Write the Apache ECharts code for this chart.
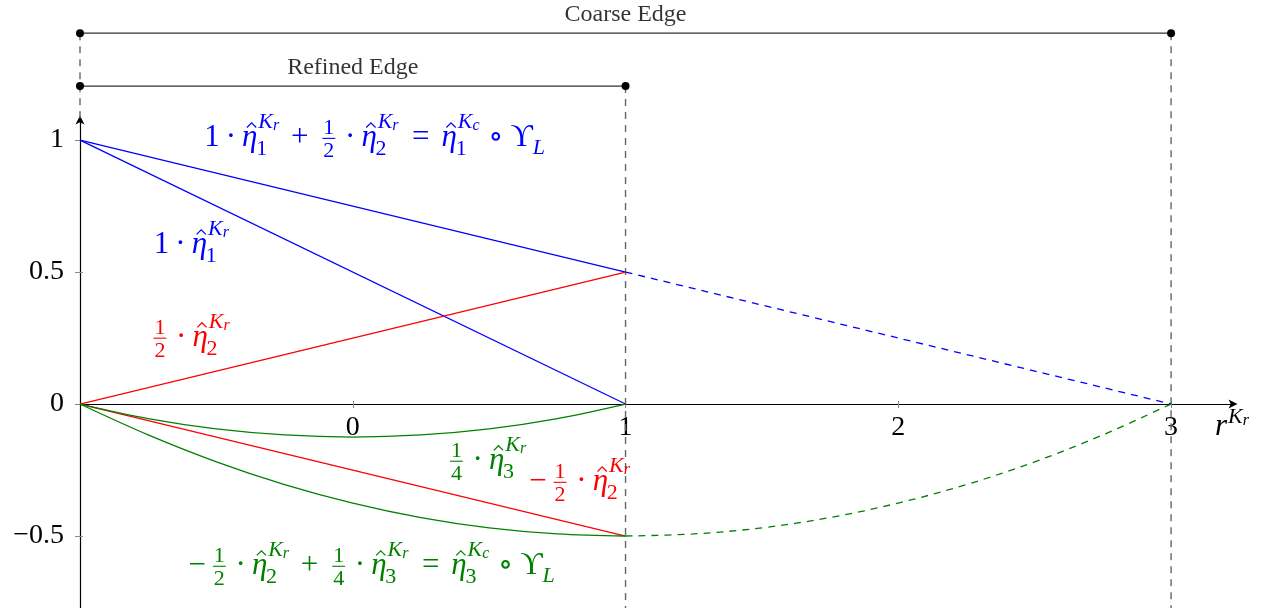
<!DOCTYPE html>
<html>
<head>
<meta charset="utf-8">
<script src="https://cdn.jsdelivr.net/npm/echarts@6/dist/echarts.min.js"></script>
<style>
  html, body { margin: 0; padding: 0; background: #fff; }
  #chart { width: 1282px; height: 608px; }
</style>
</head>
<body>
<div id="chart"></div>
<script>
// Refined element [-1, 1] inside the coarse element [-1, 3]
const xTicks = [0, 1, 2, 3];
const yTicks = [-0.5, 0, 0.5, 1];
const coarseEdge = [-1, 3];
const refinedEdge = [-1, 1];

// Linear shape functions
const coarseEta1OnRefined = [[-1, 1], [1, 0.5]];
const coarseEta1Beyond = [[1, 0.5], [3, 0]];
const refinedEta1 = [[-1, 1], [1, 0]];
const refinedEta2Half = [[-1, 0], [1, 0.5]];
const refinedEta2NegHalf = [[-1, 0], [1, -0.5]];
// Quadratic bubbles
const refinedEta3Quarter = [[-1, 0], [-0.75, -0.055], [-0.5, -0.094], [-0.25, -0.117], [0, -0.125],
  [0.25, -0.117], [0.5, -0.094], [0.75, -0.055], [1, 0]];
const coarseEta3OnRefined = [[-1, 0], [-0.75, -0.117], [-0.5, -0.219], [-0.25, -0.305], [0, -0.375],
  [0.25, -0.43], [0.5, -0.469], [0.75, -0.492], [1, -0.5]];
const coarseEta3Beyond = [[1, -0.5], [1.25, -0.492], [1.5, -0.469], [1.75, -0.43], [2, -0.375],
  [2.25, -0.305], [2.5, -0.219], [2.75, -0.117], [3, 0]];

// Axis extents, grid box and heights of the edge brackets (in y units)
const X_MIN = -1, X_MAX = 3.227;
const Y_MIN = -0.7727, Y_MAX = 1.076;
const GRID = { left: 80, right: 49, top: 120, bottom: 0 };
const GRID_H = 608 - GRID.top - GRID.bottom;
const X_AXIS_LIFT = (0 - Y_MIN) / (Y_MAX - Y_MIN) * GRID_H;   // keeps the x axis on y = 0
const COARSE_Y = 1.405, REFINED_Y = 1.2045;

const BLUE = '#0000ff', RED = '#ff0000', GREEN = '#008000';
const FAMILY = "'Liberation Serif','DejaVu Serif',serif";

// Formula labels: token lists typeset by a small layout routine below
const mathLabels = [
  { at: [0.08, 0.977], align: 'center', color: BLUE, tokens: [
    ['num', '1'], ['bin', '·'], ['eta', '1', 'K', 'r'], ['bin', '+'], ['frac', '1', '2'], ['bin', '·'],
    ['eta', '2', 'K', 'r'], ['rel', '='], ['eta', '1', 'K', 'c'], ['bin', '∘'], ['ups', 'L']] },
  { at: [-0.589, 0.572], align: 'center', color: BLUE, tokens: [
    ['num', '1'], ['bin', '·'], ['eta', '1', 'K', 'r']] },
  { at: [-0.595, 0.22], align: 'center', color: RED, tokens: [
    ['frac', '1', '2'], ['bin', '·'], ['eta', '2', 'K', 'r']] },
  { at: [0.492, -0.246], align: 'center', color: GREEN, tokens: [
    ['frac', '1', '4'], ['bin', '·'], ['eta', '3', 'K', 'r']] },
  { at: [0.828, -0.326], align: 'center', color: RED, tokens: [
    ['neg'], ['frac', '1', '2'], ['bin', '·'], ['eta', '2', 'K', 'r']] },
  { at: [0.063, -0.644], align: 'center', color: GREEN, tokens: [
    ['neg'], ['frac', '1', '2'], ['bin', '·'], ['eta', '2', 'K', 'r'], ['bin', '+'], ['frac', '1', '4'],
    ['bin', '·'], ['eta', '3', 'K', 'r'], ['rel', '='], ['eta', '3', 'K', 'c'], ['bin', '∘'], ['ups', 'L']] },
  { at: [3.161, -0.117], align: 'left', color: '#000', tokens: [['var', 'r', 'K', 'r']] }
];

// ---- tiny math typesetter -------------------------------------------------
const S = 31;                 // text size
const SC = 22, SS = 16;       // script and script-script sizes
const mctx = document.createElement('canvas').getContext('2d');
function fontOf(size, it) { return (it ? 'italic ' : '') + size + 'px ' + FAMILY; }
function textW(s, size, it) { mctx.font = fontOf(size, it); return mctx.measureText(s).width; }
const dropCache = {};
// distance from the canvas "middle" line down to the alphabetic baseline
function drop(size, it) {
  const k = size + '|' + it;
  if (!(k in dropCache)) {
    mctx.font = fontOf(size, it);
    mctx.textBaseline = 'middle';
    dropCache[k] = mctx.measureText('H').actualBoundingBoxDescent;
    mctx.textBaseline = 'alphabetic';
  }
  return dropCache[k];
}
const OPW = { '+': 0.778, '·': 0.278, '∘': 0.5, '=': 0.778, '−': 0.778 };

function layoutMath(tokens) {
  const out = [];
  let x = 0;
  const g = (s, gx, b, size, it) => { out.push({ k: 'g', s, x: gx, b, size, it }); return textW(s, size, it); };
  const scripts = (x0, sub, supA, supB, supShift) => {
    let end = x0;
    if (sub) end = Math.max(end, x0 - 0.04 * S + g(sub, x0 - 0.04 * S, 0.3 * S, SC, false));
    if (supA) {
      const kx = x0 + 0.03 * S;
      const kw = g(supA, kx, -supShift, SC, true);
      const rx = kx + kw;
      const rw = g(supB, rx, -supShift + 0.07 * S, SS, true);
      end = Math.max(end, rx + rw);
    }
    return end + 0.05 * S;
  };
  for (const t of tokens) {
    switch (t[0]) {
      case 'num': x += g(t[1], x, 0, S, false); break;
      case 'bin':
      case 'rel': {
        const sp = (t[0] === 'bin' ? 0.222 : 0.278) * S;
        const bw = OPW[t[1]] * S, w = textW(t[1], S, false);
        x += sp; g(t[1], x + (bw - w) / 2, 0, S, false); x += bw + sp;
        break;
      }
      case 'neg': {
        const bw = OPW['−'] * S, w = textW('−', S, false);
        g('−', x + (bw - w) / 2, 0, S, false); x += bw;
        break;
      }
      case 'frac': {
        x += 0.12 * S;
        const wn = textW(t[1], SC, false), wd = textW(t[2], SC, false), w = Math.max(wn, wd) + 0.06 * S;
        g(t[1], x + (w - wn) / 2, -0.39 * S, SC, false);
        g(t[2], x + (w - wd) / 2, 0.36 * S, SC, false);
        out.push({ k: 'bar', x1: x, x2: x + w, y: -0.25 * S });
        x += w + 0.12 * S;
        break;
      }
      case 'eta': {
        const w = g('η', x, 0, S, true);
        out.push({ k: 'hat', cx: x + w * 0.62, y: -0.6 * S, hw: 0.15 * S, hh: 0.15 * S });
        x = scripts(x + w, t[1], t[2], t[3], 0.58 * S);
        break;
      }
      case 'var': {
        const w = g(t[1], x, 0, S, true);
        x = scripts(x + w, null, t[2], t[3], 0.4 * S);
        break;
      }
      case 'ups': {
        const w = g('ϒ', x, 0, S, false); x += w;
        x += g(t[1], x, 0.25 * S, SC, true);
        break;
      }
    }
  }
  return { items: out, width: x };
}
const layouts = mathLabels.map(m => layoutMath(m.tokens));

function renderMath(params, api) {
  const i = api.value(2);
  const m = mathLabels[i], lay = layouts[i];
  const p = api.coord([api.value(0), api.value(1)]);
  const x0 = m.align === 'center' ? p[0] - lay.width / 2 : p[0];
  const y0 = p[1];
  const color = m.color;
  return {
    type: 'group',
    children: lay.items.map(it => {
      if (it.k === 'g') {
        return { type: 'text', x: x0 + it.x, y: y0 + it.b - drop(it.size, it.it),
          style: { text: it.s, fontSize: it.size, fontFamily: FAMILY, fontStyle: it.it ? 'italic' : 'normal',
            fontWeight: 'normal', fill: color, align: 'left', verticalAlign: 'middle' } };
      }
      if (it.k === 'bar') {
        return { type: 'line', shape: { x1: x0 + it.x1, y1: y0 + it.y, x2: x0 + it.x2, y2: y0 + it.y },
          style: { stroke: color, lineWidth: 1.1 } };
      }
      return { type: 'polyline',
        shape: { points: [[x0 + it.cx - it.hw, y0 + it.y], [x0 + it.cx, y0 + it.y - it.hh], [x0 + it.cx + it.hw, y0 + it.y]] },
        style: { stroke: color, lineWidth: 1.2, fill: null } };
    })
  };
}

// ---- chart -----------------------------------------------------------------
const ARROW = 'path://M5,0L10,10L5,7.5L0,10Z';
const minus = v => (v < 0 ? '−' + Math.abs(v) : String(v));

function curve(data, color, dashed, smooth) {
  return { type: 'line', data, symbol: 'none', smooth: smooth ? 0.35 : false, clip: false, silent: true, z: 4,
    lineStyle: { color, width: 1.3, type: dashed ? [7, 6] : 'solid' } };
}
function guide(x, yTop, yBot) {
  return { type: 'line', data: [[x, yTop], [x, yBot]], symbol: 'none', clip: false, silent: true, z: 2,
    lineStyle: { color: '#666', width: 1.4, type: [7, 6] } };
}
function bracket(edge, y, name) {
  return [
    { type: 'line', data: edge.map(x => [x, y]), symbol: 'circle', symbolSize: 8, clip: false, silent: true, z: 5,
      itemStyle: { color: '#000' }, lineStyle: { color: '#333', width: 1.3 } },
    { type: 'scatter', data: [[(edge[0] + edge[1]) / 2, y]], symbolSize: 0, clip: false, silent: true, z: 5,
      label: { show: true, position: 'top', distance: 6, formatter: name,
        fontFamily: FAMILY, fontSize: 24, color: '#000' } }
  ];
}

const tickStyle = { color: '#888', width: 1 };
const chart = echarts.init(document.getElementById('chart'), null, { renderer: 'canvas' });
chart.setOption({
  animation: false,
  backgroundColor: '#fff',
  grid: Object.assign({ containLabel: false, outerBoundsMode: 'none' }, GRID),
  xAxis: [{
    type: 'value', min: X_MIN, max: X_MAX, position: 'bottom', offset: -X_AXIS_LIFT,
    axisLine: { show: true, onZero: false, symbol: ['none', ARROW], symbolSize: [10, 9],
      lineStyle: { color: '#000', width: 1.2 } },
    axisTick: { show: true, length: 4, customValues: xTicks, lineStyle: tickStyle },
    axisLabel: { show: true, customValues: xTicks, margin: 10, fontFamily: FAMILY, fontSize: 28, color: '#000' },
    splitLine: { show: false }
  }, {
    type: 'value', min: X_MIN, max: X_MAX, position: 'bottom', offset: -X_AXIS_LIFT,
    axisLine: { show: false, onZero: false },
    axisTick: { show: true, inside: true, length: 3, customValues: xTicks, lineStyle: tickStyle },
    axisLabel: { show: false }, splitLine: { show: false }
  }],
  yAxis: [{
    type: 'value', min: Y_MIN, max: Y_MAX, position: 'left',
    axisLine: { show: true, onZero: false, symbol: ['none', ARROW], symbolSize: [10, 9],
      lineStyle: { color: '#000', width: 1.2 } },
    axisTick: { show: true, length: 5, customValues: yTicks, lineStyle: tickStyle },
    axisLabel: { show: true, customValues: yTicks, margin: 16, formatter: minus,
      fontFamily: FAMILY, fontSize: 28, color: '#000' },
    splitLine: { show: false }
  }, {
    type: 'value', min: Y_MIN, max: Y_MAX, position: 'left',
    axisLine: { show: false, onZero: false },
    axisTick: { show: true, inside: true, length: 3, customValues: yTicks, lineStyle: tickStyle },
    axisLabel: { show: false }, splitLine: { show: false }
  }],
  series: [
    guide(coarseEdge[0], COARSE_Y, Y_MAX),
    guide(refinedEdge[1], REFINED_Y, Y_MIN),
    guide(coarseEdge[1], COARSE_Y, Y_MIN),
    ...bracket(coarseEdge, COARSE_Y, 'Coarse Edge'),
    ...bracket(refinedEdge, REFINED_Y, 'Refined Edge'),
    curve(coarseEta1OnRefined, BLUE, false),
    curve(coarseEta1Beyond, BLUE, true),
    curve(refinedEta1, BLUE, false),
    curve(refinedEta2Half, RED, false),
    curve(refinedEta2NegHalf, RED, false),
    curve(refinedEta3Quarter, GREEN, false, true),
    curve(coarseEta3OnRefined, GREEN, false, true),
    curve(coarseEta3Beyond, GREEN, true, true),
    {
      type: 'custom', renderItem: renderMath, clip: false, silent: true, z: 6,
      encode: { x: 0, y: 1 },
      data: mathLabels.map((m, i) => [m.at[0], m.at[1], i])
    }
  ]
});
</script>
</body>
</html>
